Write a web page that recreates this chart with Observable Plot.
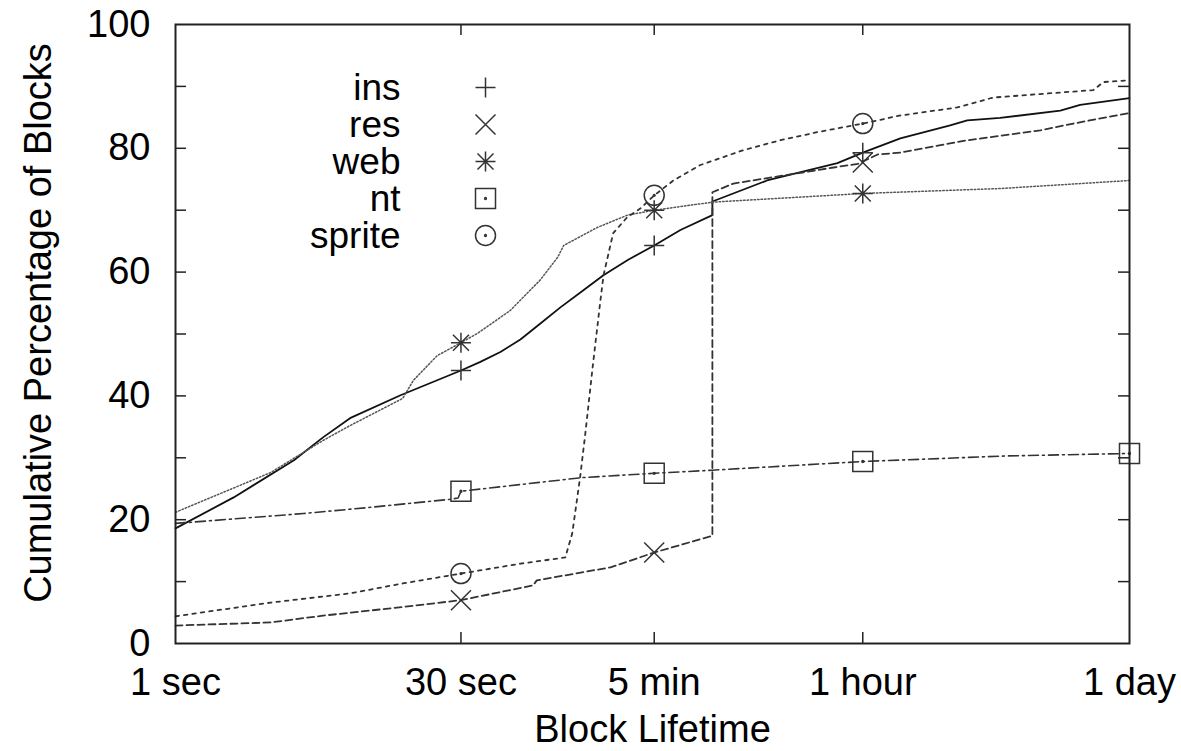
<!DOCTYPE html>
<html>
<head>
<meta charset="utf-8">
<script src="https://cdn.jsdelivr.net/npm/d3@7"></script>
<script src="https://cdn.jsdelivr.net/npm/@observablehq/plot@0.6"></script>
<style>
  html, body { margin: 0; padding: 0; background: #fff; }
  #chart { width: 1181px; height: 751px; }
</style>
</head>
<body>
<div id="chart"></div>
<script>
// ---- Data (block lifetime in seconds, cumulative % of blocks) ----
const insT = [1, 2, 4.1, 5.8, 8, 14.6, 30, 37.8, 48, 60.9, 77.3, 98.1, 124.5, 163.8, 220, 300, 410, 600, 600, 1150, 2660, 3600, 5630, 10200, 12500, 18500, 37900, 48000, 86400];
const insV = [18.6, 23.6, 29.6, 33.3, 36.4, 40.1, 44.1, 45.5, 47.1, 49.1, 51.7, 54.3, 56.7, 59.5, 62.0, 64.3, 66.8, 69.2, 71.4, 74.8, 77.6, 79.3, 81.6, 83.7, 84.5, 84.9, 86.1, 87.0, 88.1];

const resT = [1, 3.1, 5.8, 15, 30, 71, 74, 178, 300, 600, 600, 770, 2540, 3400, 4300, 5630, 12500, 29900, 44300, 86400];
const resV = [2.9, 3.4, 4.5, 5.9, 7.0, 9.4, 10.2, 12.3, 14.7, 17.4, 72.9, 74.3, 76.9, 77.5, 79.0, 79.3, 81.3, 82.9, 84.0, 85.7];

const webT = [1, 3.1, 5.8, 8, 15, 17, 22.6, 30, 36.5, 54, 77, 95, 102, 152, 218, 300, 600, 3600, 18500, 33600, 86400];
const webV = [21.2, 27.6, 32.8, 35.2, 39.6, 42.5, 46.5, 48.6, 50.1, 53.8, 58.7, 62.4, 64.3, 67.2, 69.2, 70.0, 71.3, 72.7, 73.5, 74.0, 74.8];

const ntT = [1, 4.6, 10.2, 26.4, 29, 30, 127, 300, 600, 3600, 20000, 86400];
const ntV = [19.4, 21.0, 22.0, 23.3, 23.5, 24.6, 26.8, 27.5, 28.0, 29.4, 30.3, 30.7];

const spriteT = [1, 3.1, 8, 15, 30, 61, 104, 113, 124, 132, 144, 158, 164, 184, 218, 255, 300, 377, 520, 867, 1349, 2090, 3600, 5630, 11100, 17000, 56100, 63400, 86400];
const spriteV = [4.4, 6.6, 8.1, 9.7, 11.3, 12.9, 13.9, 17.8, 26.8, 33.9, 44.6, 55.4, 59.5, 66.3, 68.9, 70.3, 72.4, 74.8, 77.3, 79.7, 81.3, 82.6, 84.0, 85.3, 86.6, 88.2, 89.4, 90.7, 91.0];

// point markers
const markT = [30, 300, 3600];
const ntMarkT = [30, 300, 3600, 86400];
const insMark = [44.1, 64.3, 79.3];
const resMark = [7.0, 14.7, 77.7];
const webMark = [48.6, 70.0, 72.7];
const ntMark = [24.6, 27.5, 29.4, 30.7];
const spriteMark = [11.3, 72.4, 84.0];

// axes
const xTickVals = [1, 30, 300, 3600, 86400];
const xTickLabels = ["1 sec", "30 sec", "5 min", "1 hour", "1 day"];
const yLabelVals = [0, 20, 40, 60, 80, 100];
const yTickVals = [10, 20, 30, 40, 50, 60, 70, 80, 90];
const xInnerTicks = [30, 300, 3600];
const seriesNames = ["ins", "res", "web", "nt", "sprite"];

// ---- Symbols (gnuplot-style) ----
const R = 10;
const dotC = c => { c.moveTo(0.9, 0); c.arc(0, 0, 0.9, 0, 2 * Math.PI); };
const plusSym = {draw(c) { c.moveTo(-R, 0); c.lineTo(R, 0); c.moveTo(0, -R); c.lineTo(0, R); }};
const timesSym = {draw(c) { c.moveTo(-R, -R); c.lineTo(R, R); c.moveTo(-R, R); c.lineTo(R, -R); }};
const starSym = {draw(c) {
  c.moveTo(-R, 0); c.lineTo(R, 0); c.moveTo(0, -R); c.lineTo(0, R);
  const d = R * 0.8;
  c.moveTo(-d, -d); c.lineTo(d, d); c.moveTo(-d, d); c.lineTo(d, -d);
}};
const squareSym = {draw(c) { c.moveTo(-R, -R); c.lineTo(R, -R); c.lineTo(R, R); c.lineTo(-R, R); c.closePath(); dotC(c); }};
const circleSym = {draw(c) { c.moveTo(R, 0); c.arc(0, 0, R, 0, 2 * Math.PI); dotC(c); }};
const symbols = [plusSym, timesSym, starSym, squareSym, circleSym];

const rows = (T, V) => T.map((t, i) => ({t, v: V[i]}));

const W = 1181, H = 751;
const mL = 175, mR = 52, mT = 24, mB = 108;
const frameW = W - mL - mR, frameH = H - mT - mB;
const FONT = "'Liberation Sans', Arial, Helvetica, sans-serif";
const FS = 38;

const lineStyles = [
  {data: rows(insT, insV), stroke: "#111", strokeWidth: 1.8, dash: null},
  {data: rows(resT, resV), stroke: "#333", strokeWidth: 1.8, dash: "7,4"},
  {data: rows(webT, webV), stroke: "#555", strokeWidth: 1.5, dash: "1.5,2"},
  {data: rows(ntT, ntV), stroke: "#333", strokeWidth: 1.6, dash: "10,4,2,4"},
  {data: rows(spriteT, spriteV), stroke: "#333", strokeWidth: 1.8, dash: "3.5,5"}
];
const markSets = [
  rows(markT, insMark), rows(markT, resMark), rows(markT, webMark), rows(ntMarkT, ntMark), rows(markT, spriteMark)
];

const legendRowY = [87, 124, 161, 198, 235];

const marks = [
  // inner ticks
  Plot.tickY(yTickVals, {y: d => d, insetRight: frameW - 11, stroke: "#222", strokeWidth: 1.5}),
  Plot.tickY(yTickVals, {y: d => d, insetLeft: frameW - 11, stroke: "#222", strokeWidth: 1.5}),
  Plot.tickX(xInnerTicks, {x: d => d, insetTop: frameH - 11, stroke: "#222", strokeWidth: 1.5}),
  Plot.tickX(xInnerTicks, {x: d => d, insetBottom: frameH - 11, stroke: "#222", strokeWidth: 1.5}),
  // series lines
  ...lineStyles.map(s => Plot.line(s.data, {
    x: "t", y: "v", stroke: s.stroke, strokeWidth: s.strokeWidth,
    strokeDasharray: s.dash, curve: "linear"
  })),
  // point markers
  ...markSets.map((m, i) => Plot.dot(m, {
    x: "t", y: "v", symbol: symbols[i], stroke: "#333", strokeWidth: 1.5, fill: "none"
  })),
  // frame
  Plot.frame({stroke: "#222", strokeWidth: 2}),
  // x tick labels
  Plot.text(xTickVals, {
    x: d => d, text: (d, i) => xTickLabels[i], frameAnchor: "bottom", dy: 39,
    fontSize: FS, fill: "#000", textAnchor: "middle", lineAnchor: "middle"
  }),
  // y tick labels
  Plot.text(yLabelVals, {
    y: d => d, text: d => String(d), frameAnchor: "left", dx: -25,
    fontSize: FS, fill: "#000", textAnchor: "end", lineAnchor: "middle"
  }),
  // axis titles
  Plot.text(["Block Lifetime"], {
    text: d => d, frameAnchor: "bottom", dy: 86, fontSize: FS, fill: "#000",
    textAnchor: "middle", lineAnchor: "middle"
  }),
  Plot.text(["Cumulative Percentage of Blocks"], {
    text: d => d, frameAnchor: "left", dx: -137, dy: -11, rotate: -90, fontSize: FS, fill: "#000",
    textAnchor: "middle", lineAnchor: "middle"
  }),
  // legend
  ...seriesNames.map((name, i) => Plot.text([name], {
    text: d => d, frameAnchor: "top-left", dx: 225, dy: legendRowY[i] - mT + 1,
    textAnchor: "end", lineAnchor: "middle", fontSize: 37, fill: "#000"
  })),
  ...seriesNames.map((name, i) => Plot.dot([name], {
    frameAnchor: "top-left", dx: 310, dy: legendRowY[i] - mT,
    symbol: symbols[i], stroke: "#333", strokeWidth: 1.5, fill: "none"
  }))
];

const chart = Plot.plot({
  width: W, height: H,
  marginLeft: mL, marginRight: mR, marginTop: mT, marginBottom: mB,
  x: {type: "log", domain: [1, 86400], axis: null},
  y: {domain: [0, 100], axis: null},
  style: {fontFamily: FONT, fontSize: FS + "px", background: "#fff", color: "#000"},
  marks
});
document.getElementById("chart").appendChild(chart);
</script>
</body>
</html>
